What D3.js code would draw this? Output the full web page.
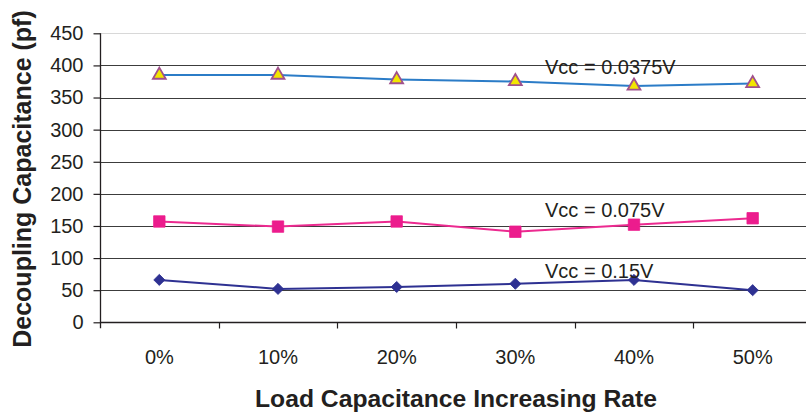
<!DOCTYPE html>
<html>
<head>
<meta charset="utf-8">
<script src="https://cdn.jsdelivr.net/npm/d3@7/dist/d3.min.js"></script>
<style>
  html, body { margin: 0; padding: 0; background: #fff; }
  svg { display: block; font-family: "Liberation Sans", Arial, sans-serif; }
</style>
</head>
<body>
<svg id="chart" width="806" height="416"></svg>
<script>
// Load capacitance increase (categories) and decoupling capacitance per supply level (pF)
const categories = ["0%", "10%", "20%", "30%", "40%", "50%"];
const vcc00375 = [385, 385, 378, 375, 368, 372];
const vcc0075  = [157, 149, 157, 141, 152, 162];
const vcc015   = [66, 52, 55, 60, 66, 50];
const seriesNames = ["Vcc = 0.0375V", "Vcc = 0.075V", "Vcc = 0.15V"];
const yTicks = [0, 50, 100, 150, 200, 250, 300, 350, 400, 450];

const svg = d3.select("#chart");
const ink = "#231f20";

const x = d3.scaleBand().domain(categories).range([100, 812]).padding(0);
const y = d3.scaleLinear().domain([0, 450]).range([322.3, 33.3]);
const cx = c => x(c) + x.bandwidth() / 2;

// horizontal gridlines
svg.append("g").selectAll("line").data(yTicks.filter(v => v > 0)).join("line")
  .attr("x1", 100).attr("x2", 806)
  .attr("y1", d => Math.round(y(d)) + 0.5).attr("y2", d => Math.round(y(d)) + 0.5)
  .attr("stroke", d => d === 450 ? "#d8d8d8" : "#3c3c3c")
  .attr("stroke-width", 1.2);

// y axis
const yAxis = svg.append("g").attr("transform", "translate(100.5,0)")
  .call(d3.axisLeft(y).tickValues(yTicks).tickSize(7).tickPadding(10).tickFormat(d3.format("d")));
yAxis.select(".domain").remove();
yAxis.append("line").attr("x1", 0).attr("x2", 0).attr("y1", y(450)).attr("y2", y(0) + 6)
  .attr("stroke", ink).attr("stroke-width", 1.3);
yAxis.selectAll(".tick line").attr("stroke", ink).attr("stroke-width", 1.2);
yAxis.selectAll(".tick text").attr("fill", ink).style("font-size", "20px")
  .style("font-family", "'Liberation Sans', Arial, sans-serif");

// x axis: labels centred in categories, tick marks on category boundaries
const xAxis = svg.append("g").attr("transform", `translate(0,${Math.round(y(0)) + 0.5})`)
  .call(d3.axisBottom(x).tickSize(0).tickPadding(27));
xAxis.select(".domain").remove();
xAxis.append("line").attr("x1", 100).attr("x2", 806).attr("y1", 0).attr("y2", 0)
  .attr("stroke", ink).attr("stroke-width", 1.3);
xAxis.selectAll(".tickmark").data(categories.slice(1)).join("line")
  .attr("class", "tickmark")
  .attr("x1", d => Math.round(x(d)) + 0.5).attr("x2", d => Math.round(x(d)) + 0.5)
  .attr("y1", 0).attr("y2", 6).attr("stroke", ink).attr("stroke-width", 1.2);
xAxis.selectAll(".tick text").attr("fill", ink).style("font-size", "20px")
  .style("font-family", "'Liberation Sans', Arial, sans-serif");

// axis titles
svg.append("text").attr("x", 456).attr("y", 407).attr("text-anchor", "middle")
  .attr("fill", ink).style("font-size", "24.7px").style("font-weight", "bold")
  .text("Load Capacitance Increasing Rate");
svg.append("text").attr("transform", "translate(31,179) rotate(-90)").attr("text-anchor", "middle")
  .attr("fill", ink).style("font-size", "25px").style("font-weight", "bold")
  .text("Decoupling Capacitance (pf)");

// series (diamond = square turned 45 degrees)
const series = [
  { name: seriesNames[0], values: vcc00375, line: "#2b7cc7", symbol: d3.symbolTriangle, size: 72, rot: 0,  fill: "#f2e600", stroke: "#a0508c", sw: 1.8, labelY: 73.5 },
  { name: seriesNames[1], values: vcc0075,  line: "#ec2a90", symbol: d3.symbolSquare,   size: 130, rot: 0, fill: "#ec1c8d", stroke: "#ec1c8d", sw: 0.8, labelY: 216.7 },
  { name: seriesNames[2], values: vcc015,   line: "#2e3192", symbol: d3.symbolSquare,   size: 62, rot: 45, fill: "#2e3192", stroke: "#2e3192", sw: 0.8, labelY: 278.3 }
];

const line = d3.line().x((d, i) => cx(categories[i])).y(d => y(d));

series.forEach(s => {
  svg.append("path").datum(s.values).attr("d", line)
    .attr("fill", "none").attr("stroke", s.line).attr("stroke-width", 2);
  svg.append("g").selectAll("path").data(s.values).join("path")
    .attr("transform", (d, i) => `translate(${cx(categories[i])},${y(d)}) rotate(${s.rot})`)
    .attr("d", d3.symbol().type(s.symbol).size(s.size))
    .attr("fill", s.fill).attr("stroke", s.stroke)
    .attr("stroke-width", s.sw);
  svg.append("text").attr("x", 545).attr("y", s.labelY)
    .attr("fill", ink).style("font-size", "20px").text(s.name);
});
</script>
</body>
</html>
